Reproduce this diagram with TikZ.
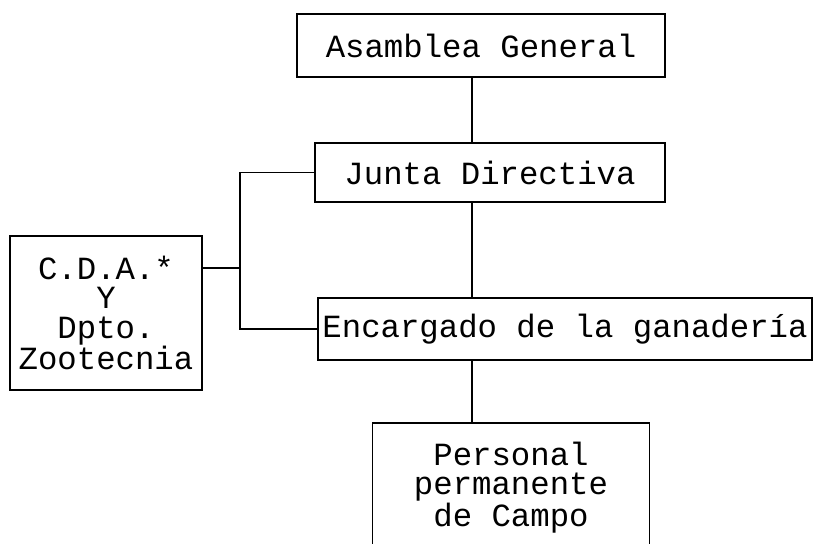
\documentclass[tikz,border=0pt]{standalone}
\usepackage{fontspec}
\setmainfont{Liberation Mono}

\tikzset{
    orgbox/.style={
        rectangle,
        draw,
        line width=1pt,
        inner sep=2pt,
        align=center,
        font=\fontsize{23}{21}\selectfont
    },
    link/.style={line width=1pt}
}

\begin{document}
\begin{tikzpicture}
    \clip (0, 0) rectangle (20.375, -13.6);
    \useasboundingbox (0, 0) rectangle (20.375, -13.6);

    \node[orgbox, minimum width=9.2cm, minimum height=1.575cm]
        (asamblea) at (12.025, -1.1375) {Asamblea General};
    \node[orgbox, minimum width=8.75cm, minimum height=1.475cm]
        (junta) at (12.25, -4.3125) {Junta Directiva};
    \node[orgbox, minimum width=12.35cm, minimum height=1.55cm]
        (encargado) at (14.125, -8.225) {Encargado de la ganadería};
    \node[orgbox, minimum width=6.925cm, minimum height=3.225cm]
        (personal) at (12.775, -12.1875) {Personal\\permanente\\de Campo};
    \node[orgbox, minimum width=4.8cm, minimum height=3.85cm]
        (cda) at (2.65, -7.825) {C.D.A.*\\Y\\Dpto.\\Zootecnia};

    \coordinate (spine) at (11.8, 0);
    \coordinate (fork) at (6.0, -6.7);

    \draw[link] (asamblea.south -| spine) -- (junta.north -| spine);
    \draw[link, line width=1.6pt] (junta.south -| spine) -- (encargado.north -| spine);
    \draw[link] (encargado.south -| spine) -- (personal.north -| spine);

    \draw[link] (cda.east |- fork) -- (fork);
    \draw[link] (junta.west) -| (fork) |- (encargado.west);

\end{tikzpicture}
\end{document}
